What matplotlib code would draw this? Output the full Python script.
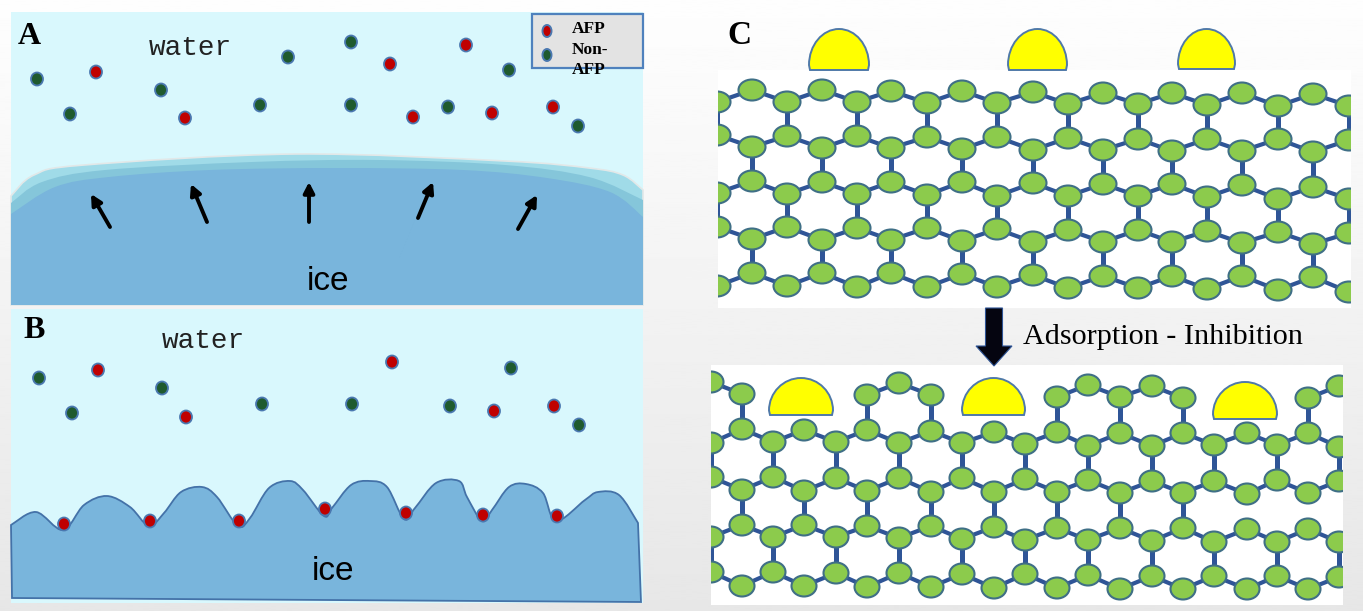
import numpy as np
import matplotlib
matplotlib.use('Agg')
import matplotlib.pyplot as plt
from matplotlib.patches import Rectangle, Ellipse, PathPatch, FancyArrow
from matplotlib.path import Path

nan = float('nan')

# panel A / B dots in pixels
a_green = [(37, 79), (70, 114), (161, 90), (260, 105), (288, 57), (351, 42), (351, 105), (448, 107), (509, 70), (578, 126)]
a_red = [(96, 72), (185, 118), (390, 64), (413, 117), (466, 45), (492, 113), (553, 107)]
b_green = [(39, 378), (72, 413), (162, 388), (262, 404), (352, 404), (450, 406), (511, 368), (579, 425)]
b_red = [(98, 370), (186, 417), (392, 362), (494, 411), (554, 406)]
b_bound = [(64, 524), (150, 521), (239, 521), (325, 509), (406, 513), (483, 515), (557, 516)]

# ice outlines
ice_outer = [(11, 196), (34, 175), (84, 165), (295, 154), (505, 161), (589, 168), (623, 175), (643, 190)]
ice_mid = [(11, 203), (42, 182), (105, 170), (252, 162), (379, 160), (505, 165), (589, 177), (643, 200)]
ice_inner = [(11, 214), (55, 187), (109, 177), (210, 170), (337, 168), (463, 170), (547, 178), (610, 192), (643, 217)]
ice_b = [(11, 525), (36, 512), (63, 530), (84, 505), (107, 496), (130, 507), (149, 526), (164, 513), (181, 492),
         (202, 487), (217, 497), (238, 526), (250, 518), (269, 488), (290, 481), (303, 490), (324, 516), (332, 508),
         (351, 485), (370, 481), (387, 487), (404, 519), (415, 508), (436, 483), (459, 481), (467, 497), (482, 521),
         (492, 510), (509, 487), (526, 484), (543, 493), (556, 521), (585, 500), (598, 492), (619, 495), (638, 523)]

growth_arrows = [((110, 227), (91, 194)), ((207, 222), (191, 184)), ((309, 222), (309, 182)),
                 ((418, 218), (433, 182)), ((518, 229), (537, 195))]

# upper lattice of panel C
top_x = [717, 752, 787, 822, 857, 891, 927, 962, 997, 1033, 1068, 1103, 1138, 1172, 1207, 1242, 1278, 1313, 1349]
top_rows = [
    [102, 90, 102, 90, 102, 91, 103, 91, 103, 92, 104, 93, 104, 93, 105, 93, 106, 94, 106],
    [135, 147, 136, 148, 136, 148, 137, 149, 137, 150, 138, 150, 139, 151, 139, 151, 139, 152, 140],
    [193, 181, 194, 182, 194, 182, 195, 182, 196, 183, 196, 184, 196, 184, 197, 185, 199, 187, 199],
    [227, 239, 227, 240, 228, 240, 228, 241, 229, 242, 230, 242, 230, 242, 231, 243, 232, 244, 233],
    [286, 273, 286, 273, 287, 273, 287, 274, 287, 275, 288, 276, 288, 276, 289, 276, 290, 277, 292],
]

# lower lattice of panel C, the top row has holes where the proteins sit
low_x = [711, 742, 773, 804, 836, 867, 899, 931, 962, 994, 1025, 1057, 1088, 1120, 1152, 1183, 1214, 1247, 1277, 1308, 1339]
low_rows = [
    [382, 394, nan, nan, nan, 395, 383, 395, nan, nan, nan, 397, 385, 397, 386, 398, nan, nan, nan, 398, 386],
    [443, 429, 442, 430, 442, 430, 443, 431, 443, 432, 444, 432, 446, 433, 446, 433, 445, 433, 445, 433, 447],
    [477, 490, 477, 491, 478, 491, 478, 492, 478, 492, 479, 492, 480, 493, 481, 493, 481, 494, 480, 493, 481],
    [537, 525, 537, 525, 537, 526, 538, 526, 539, 527, 540, 528, 540, 528, 541, 528, 542, 529, 542, 529, 542],
    [572, 586, 572, 586, 573, 587, 573, 587, 574, 588, 574, 588, 575, 589, 576, 589, 576, 589, 576, 589, 577],
]
low_missing = [(3, 17), (3, 19)]  # broken vertical bonds under the right protein

# x0, x1, top, base
top_domes = [(809, 869, 29, 70), (1008, 1067, 29, 70), (1178, 1235, 29, 69)]
low_domes = [(769, 833, 378, 415), (962, 1025, 378, 415), (1213, 1277, 382, 419)]

WATER = '#d9f8fd'
ICE = '#79b5dc'
RED = '#c00000'
DARK = '#1f5a2e'
DOT_EDGE = '#4a78b0'
BOND = '#2f5597'
NODE = '#8ccb4c'
NODE_EDGE = '#3f6f86'


def smooth(points):
    # catmull-rom through the points, as bezier segments
    pts = np.array(points, dtype=float)
    verts = [pts[0]]
    codes = [Path.MOVETO]
    for i in range(len(pts) - 1):
        p0 = pts[max(i - 1, 0)]
        p1 = pts[i]
        p2 = pts[i + 1]
        p3 = pts[min(i + 2, len(pts) - 1)]
        verts += [p1 + (p2 - p0) / 6, p2 - (p3 - p1) / 6, p2]
        codes += [Path.CURVE4] * 3
    return verts, codes


def ice_patch(ax, outline, bottom, face, edge, lw, z):
    verts, codes = smooth(outline)
    verts = verts + [bottom[0], bottom[1], outline[0]]
    codes = codes + [Path.LINETO, Path.LINETO, Path.CLOSEPOLY]
    ax.add_patch(PathPatch(Path(verts, codes), facecolor=face, edgecolor=edge, lw=lw, zorder=z))


def dots(ax, pts, color):
    for x, y in pts:
        ax.add_patch(Ellipse((x, y), 12, 13, facecolor=color, edgecolor=DOT_EDGE, lw=1.3, zorder=5))


def dome(ax, x0, x1, top, base):
    k = 0.5523
    cx = (x0 + x1) / 2
    rx = (x1 - x0) / 2
    ys = base - 0.12 * (base - top)
    ry = ys - top
    verts = [(x0 + 1, base), (x0, ys), (x0, ys - k * ry), (cx - k * rx, top), (cx, top),
             (cx + k * rx, top), (x1, ys - k * ry), (x1, ys), (x1 - 1, base), (x0 + 1, base)]
    codes = [Path.MOVETO, Path.LINETO, Path.CURVE4, Path.CURVE4, Path.CURVE4,
             Path.CURVE4, Path.CURVE4, Path.CURVE4, Path.LINETO, Path.CLOSEPOLY]
    ax.add_patch(PathPatch(Path(verts, codes), facecolor='#ffff00', edgecolor='#4f79a8', lw=1.4, zorder=6))


def lattice(ax, xs, rows, box, rx, ry, missing=()):
    frame = Rectangle((box[0], box[1]), box[2] - box[0], box[3] - box[1], facecolor='white', edgecolor='none', zorder=1)
    ax.add_patch(frame)
    for r, row in enumerate(rows):
        for j in range(len(xs) - 1):
            if row[j] == row[j] and row[j + 1] == row[j + 1]:
                ln, = ax.plot([xs[j], xs[j + 1]], [row[j], row[j + 1]], color=BOND, lw=3.0, zorder=2, solid_capstyle='butt')
                ln.set_clip_path(frame)
        if r + 1 < len(rows):
            for j in range(len(xs)):
                gap = rows[r + 1][j] - row[j]
                if gap < 45 and (r + 1, j) not in missing:
                    ln, = ax.plot([xs[j], xs[j]], [row[j], rows[r + 1][j]], color=BOND, lw=3.6, zorder=2, solid_capstyle='butt')
                    ln.set_clip_path(frame)
    for row in rows:
        for x, y in zip(xs, row):
            if y == y:
                e = Ellipse((x, y), rx * 2, ry * 2, facecolor=NODE, edgecolor=NODE_EDGE, lw=1.5, zorder=3)
                ax.add_patch(e)
                e.set_clip_path(frame)


plt.rcParams['font.family'] = ['Liberation Serif', 'DejaVu Serif']

fig = plt.figure(figsize=(13.63, 6.11), dpi=100)
ax = fig.add_axes([0, 0, 1, 1])

# pale grey backdrop, darker towards the bottom
ax.imshow(np.linspace(0.995, 0.905, 256).reshape(-1, 1), cmap='gray', vmin=0, vmax=1,
          extent=(0, 1363, 611, 0), aspect='auto', zorder=0)

# panel A
ax.add_patch(Rectangle((11, 12), 632, 293, facecolor=WATER, edgecolor='none', zorder=1))
ice_patch(ax, ice_outer, [(643, 305), (11, 305)], '#a0dbe8', '#e2e8e8', 1.2, 2)
ice_patch(ax, ice_mid, [(643, 305), (11, 305)], '#85c6da', 'none', 0, 2.1)
ice_patch(ax, ice_inner, [(643, 305), (11, 305)], ICE, 'none', 0, 2.2)
dots(ax, a_green, DARK)
dots(ax, a_red, RED)
for tail, tip in growth_arrows:
    ax.annotate('', xy=tip, xytext=tail, zorder=5,
                arrowprops=dict(arrowstyle='-|>,head_width=0.32,head_length=0.62', color='black', lw=2.8,
                                shrinkA=0, shrinkB=0))
ax.text(18, 36, 'A', fontsize=23, fontweight='bold', va='center', ha='left', zorder=7)
ax.text(149, 48, 'water', fontsize=20, family='Liberation Mono', color='#222222', va='center', ha='left', zorder=7)
ax.text(328, 282, 'ice', fontsize=24, family='Liberation Sans', va='center', ha='center', zorder=7)

# legend box of panel A
ax.add_patch(Rectangle((532, 14), 111, 54, facecolor='#e3e3e3', edgecolor='#4f81bd', lw=1.6, zorder=6))
ax.add_patch(Ellipse((547, 31), 9, 12, facecolor=RED, edgecolor=DOT_EDGE, lw=1.4, zorder=7))
ax.add_patch(Ellipse((547, 55), 9, 12, facecolor=DARK, edgecolor=DOT_EDGE, lw=1.4, zorder=7))
ax.text(572, 29, 'AFP', fontsize=12.5, fontweight='bold', va='center', ha='left', zorder=8)
ax.text(572, 50, 'Non-', fontsize=12.5, fontweight='bold', va='center', ha='left', zorder=8)
ax.text(572, 70, 'AFP', fontsize=12.5, fontweight='bold', va='center', ha='left', zorder=8)

# panel B
ax.add_patch(Rectangle((11, 309), 632, 294, facecolor=WATER, edgecolor='none', zorder=1))
ice_patch(ax, ice_b, [(641, 602), (12, 598)], ICE, '#4472a8', 1.3, 2)
dots(ax, b_green, DARK)
dots(ax, b_red, RED)
dots(ax, b_bound, RED)
ax.text(23, 331, 'B', fontsize=23, fontweight='bold', va='center', ha='left', zorder=7)
ax.text(162, 341, 'water', fontsize=20, family='Liberation Mono', color='#222222', va='center', ha='left', zorder=7)
ax.text(333, 572, 'ice', fontsize=24, family='Liberation Sans', va='center', ha='center', zorder=7)

# panel C
lattice(ax, top_x, top_rows, (718, 70, 1351, 308), 13.5, 10.5)
lattice(ax, low_x, low_rows, (711, 365, 1343, 605), 12.5, 10.5, low_missing)
for d in top_domes + low_domes:
    dome(ax, *d)
ax.add_patch(FancyArrow(994, 308, 0, 58, width=17, head_width=36, head_length=20, length_includes_head=True,
                        facecolor='#050510', edgecolor='#2f5597', lw=0.8, zorder=6))
ax.text(739, 36, 'C', fontsize=24, fontweight='bold', va='center', ha='center', zorder=7)
ax.text(1023, 337, 'Adsorption - Inhibition', fontsize=21.7, va='center', ha='left', zorder=7)

ax.set_xlim(0, 1363)
ax.set_ylim(611, 0)
ax.axis('off')

fig.savefig('out.png', dpi=100)
